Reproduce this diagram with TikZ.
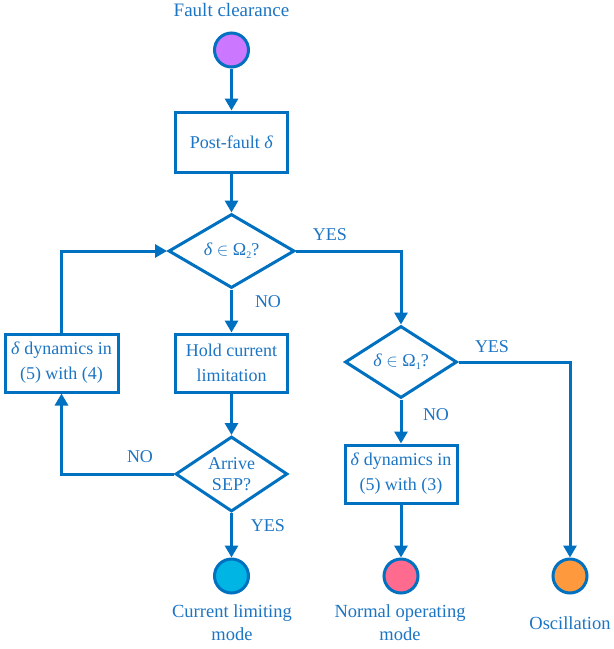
\documentclass[tikz,border=0pt]{standalone}
\usepackage{fontspec}
\setmainfont{Liberation Serif}
\usetikzlibrary{arrows.meta,shapes.geometric}
\definecolor{lineblue}{RGB}{0,112,192}
\definecolor{textblue}{RGB}{28,117,196}
\definecolor{cpurple}{RGB}{204,119,255}
\definecolor{ccyan}{RGB}{0,180,228}
\definecolor{cpink}{RGB}{255,106,143}
\definecolor{corange}{RGB}{255,153,61}
\tikzset{
  every node/.style={font=\fontsize{18}{25}\selectfont, text=textblue},
  conn/.style={draw=lineblue, line width=3pt},
  arr/.style={conn, -{Triangle[length=12pt,width=13pt]}},
  stepbox/.style={draw=lineblue, line width=3pt, rectangle, minimum width=112pt, minimum height=58pt, inner sep=0pt, align=center, fill=white},
  decision/.style={draw=lineblue, line width=3pt, diamond, inner sep=0pt},
  endpoint/.style={draw=lineblue, line width=3pt, circle, minimum size=34pt, inner sep=0pt},
  lbl/.style={inner sep=0pt}
}
\newcommand{\dlt}{\textit{δ}}
\begin{document}
\begin{tikzpicture}[x=1pt,y=-1pt]
\useasboundingbox (0,0) rectangle (614,649);
% nodes
\node[lbl, font=\fontsize{19}{25}\selectfont] (tstart) at (231.5,10) {Fault clearance};
\node[endpoint, fill=cpurple] (start) at (231.5,50) {};
\node[stepbox, minimum height=60pt] (b1) at (231.5,142) {Post-fault \dlt};
\node[decision, minimum width=126pt, minimum height=74pt] (d1) at (231.5,251) {};
\node[lbl] (t1) at (231.5,251) {\dlt{} $\in$ Ω\raisebox{-0.35ex}{\fontsize{10}{10}\selectfont 2}?};
\node[stepbox] (b2) at (231.5,363) {Hold current\\limitation};
\node[decision, minimum width=112pt, minimum height=75pt] (d3) at (231.5,474) {};
\node[lbl, align=center, font=\fontsize{18}{20.5}\selectfont] (t3) at (231.5,474) {Arrive\\SEP?};
\node[stepbox, minimum width=113pt] (b3) at (61.5,363) {\dlt{} dynamics in\\(5) with (4)};
\node[decision, minimum width=112pt, minimum height=72pt] (d2) at (401,362) {};
\node[lbl] (t2) at (401,362) {\dlt{} $\in$ Ω\raisebox{-0.35ex}{\fontsize{10}{10}\selectfont 1}?};
\node[stepbox] (b4) at (401,474) {\dlt{} dynamics in\\(5) with (3)};
\node[endpoint, fill=ccyan] (cur) at (231.5,576) {};
\node[endpoint, fill=cpink] (nor) at (401,576) {};
\node[endpoint, fill=corange] (osc) at (570,576) {};
\node[lbl, align=center, font=\fontsize{18.5}{23}\selectfont] (tcur) at (232,623) {Current limiting\\mode};
\node[lbl, align=center, font=\fontsize{18.5}{23}\selectfont] (tnor) at (400,623) {Normal operating\\mode};
\node[lbl, font=\fontsize{18.5}{23}\selectfont] (tosc) at (570,623) {Oscillation};
% labels
\node[lbl] (y1) at (330,235) {YES};
\node[lbl] (n1) at (268,302) {NO};
\node[lbl] (y2) at (492,347) {YES};
\node[lbl] (n2) at (436,415) {NO};
\node[lbl] (n3) at (140,457) {NO};
\node[lbl] (y3) at (268,526) {YES};
% connectors
\draw[arr] (start) -- (b1);
\draw[arr] (b1) -- (d1);
\draw[arr] (d1.east) -| (d2.north);
\draw[arr] (d2.east) -| (osc.north);
\draw[arr] (d2.south) -- (b4.north);
\draw[arr] (b4.south) -- (nor.north);
\draw[arr] (d1.south) -- (b2.north);
\draw[arr] (b2.south) -- (d3.north);
\draw[arr] (d3.south) -- (cur.north);
\draw[arr] (d3.west) -| (b3.south);
\draw[arr] (b3.north) |- (d1.west);
\end{tikzpicture}
\end{document}
